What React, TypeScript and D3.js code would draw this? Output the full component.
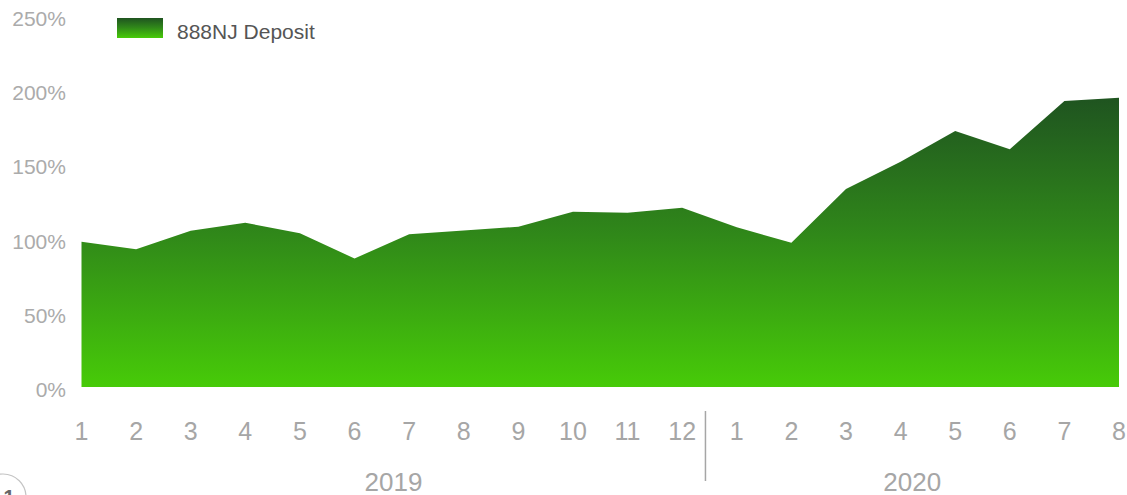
import React from "react";
import * as d3 from "d3";

const monthLabels = ["1","2","3","4","5","6","7","8","9","10","11","12","1","2","3","4","5","6","7","8"];
const yearOf = [2019,2019,2019,2019,2019,2019,2019,2019,2019,2019,2019,2019,2020,2020,2020,2020,2020,2020,2020,2020];
const depositValues = [97.9, 92.8, 105.3, 110.7, 103.6, 86.6, 102.9, 105.5, 108.0, 118.1, 117.5, 120.8, 107.6, 97.2, 133.4, 151.8, 172.5, 160.2, 192.7, 194.9];
const yTicks = [0, 50, 100, 150, 200, 250];
const seriesName = "888NJ Deposit";

const W = 1127;
const H = 495;

export default function App() {
  const x = d3.scaleLinear().domain([0, depositValues.length - 1]).range([81.5, 1119]);
  const y = d3.scaleLinear().domain([0, 250]).range([387, 16]);

  const area = d3
    .area<number>()
    .x((_, i) => x(i))
    .y0(y(0))
    .y1((d) => y(d));

  const years = Array.from(new Set(yearOf));
  const groups = years.map((yr) => {
    const idx = yearOf.map((v, i) => (v === yr ? i : -1)).filter((i) => i >= 0);
    return { yr, first: idx[0], last: idx[idx.length - 1] };
  });
  const separators = groups.slice(0, -1).map((g) => (x(g.last) + x(g.last + 1)) / 2 - 4);

  const font = "'Liberation Sans', Arial, sans-serif";

  return (
    <svg width={W} height={H} style={{ position: "absolute", left: 0, top: 0, display: "block" }} fontFamily={font}>
      <defs>
        <linearGradient id="areaGrad" x1="0" y1="0" x2="0" y2="1">
          <stop offset="0%" stopColor="#1f5420" />
          <stop offset="45%" stopColor="#2f851a" />
          <stop offset="100%" stopColor="#47cb08" />
        </linearGradient>
      </defs>

      {yTicks.map((t) => (
        <text key={t} x={66} y={y(t) + 10} textAnchor="end" fontSize={21} fill="#ababab">
          {t}%
        </text>
      ))}

      <path d={area(depositValues) || ""} fill="url(#areaGrad)" />

      {monthLabels.map((m, i) => (
        <text key={i} x={x(i)} y={440} textAnchor="middle" fontSize={25} fill="#a6a6a6">
          {m}
        </text>
      ))}

      {separators.map((sx, i) => (
        <line key={i} x1={sx} x2={sx} y1={411} y2={481} stroke="#a6a6a6" strokeWidth={1.5} />
      ))}

      {groups.map((g, gi) => {
        const left = gi === 0 ? x(g.first) : separators[gi - 1];
        const right = gi === groups.length - 1 ? x(g.last) : separators[gi];
        return (
          <text key={g.yr} x={(left + right) / 2} y={491} textAnchor="middle" fontSize={26} fill="#a6a6a6">
            {g.yr}
          </text>
        );
      })}

      <rect x={117} y={18} width={46} height={20} fill="url(#areaGrad)" />
      <text x={177} y={39} fontSize={21} fill="#555555">
        {seriesName}
      </text>

      <circle cx={3} cy={497} r={23} fill="#ffffff" stroke="#c4c4c4" strokeWidth={1.2} />
      <text x={9} y={504} textAnchor="middle" fontSize={20} fontWeight="bold" fill="#666666">
        1
      </text>
    </svg>
  );
}
